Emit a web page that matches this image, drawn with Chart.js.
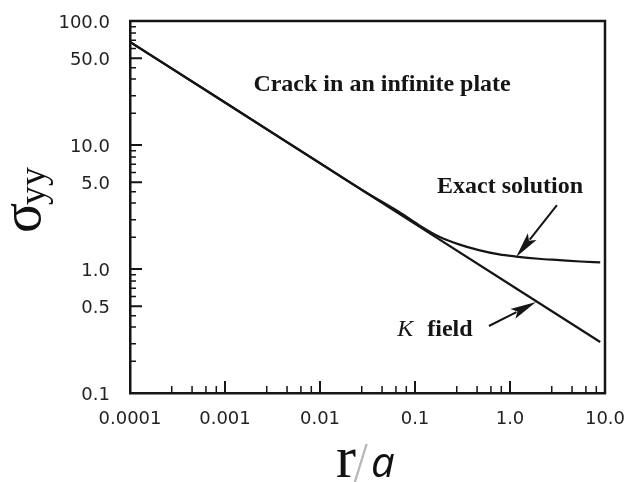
<!DOCTYPE html>
<html>
<head>
<meta charset="utf-8">
<script src="https://cdn.jsdelivr.net/npm/chart.js@4.4.1/dist/chart.umd.min.js"></script>
<style>
  html, body { margin: 0; padding: 0; background: #ffffff; }
  #c { display: block; }
</style>
</head>
<body>
<canvas id="c" width="628" height="482"></canvas>
<script>
// ---- data (log-log) ----
const exactR      = [0.0001, 0.001, 0.01, 0.03, 0.068, 0.11, 0.18, 0.29, 0.47, 0.77, 1.16, 2.0, 3.3, 5.5, 8.9];
const exactSigma  = [67.7,   22.0,  7.14, 4.18, 2.88,  2.26, 1.82, 1.58, 1.42, 1.31, 1.26, 1.21, 1.18, 1.15, 1.13];
const kFieldR     = [0.0001, 0.001, 0.01, 0.1,  1.0,  8.9];
const kFieldSigma = [67.7,   22.0,  7.13, 2.31, 0.75, 0.258];

const xTickValues = [0.0001, 0.001, 0.01, 0.1, 1, 10];
const xTickLabels = ['0.0001', '0.001', '0.01', '0.1', '1.0', '10.0'];
const yTickValues = [0.1, 0.5, 1, 5, 10, 50, 100];
const yTickLabels = ['0.1', '0.5', '1.0', '5.0', '10.0', '50.0', '100.0'];
const xMinorMult  = [2.75, 4.5, 6.3, 8.1];
const yMinorTicks = [0.18, 0.25, 0.34, 0.42, 0.6, 0.7, 0.8, 0.9, 1.8, 2.5, 3.4, 4.2, 6, 7, 8, 9, 18, 25, 34, 42, 60, 70, 80, 90];

const chartTitle   = 'Crack in an infinite plate';
const exactLabel   = 'Exact solution';
const kLabelItalic = 'K';
const kLabelBold   = 'field';
// annotation anchors in data coordinates (r/a, sigma)
const titleAt      = [0.045, 30.5];
const exactLabelAt = [1.0, 4.6];
const kLabelAt     = [0.065, 0.322];
const exactArrow   = [[3.12, 3.28], [1.16, 1.25]];
const kArrow       = [[0.60, 0.347], [1.88, 0.541]];

const INK = '#151515';

function arrow(ctx, x0, y0, x1, y1) {
  const ang = Math.atan2(y1 - y0, x1 - x0);
  const len = 26, half = 5.5;
  const bx = x1 - len * Math.cos(ang), by = y1 - len * Math.sin(ang);
  ctx.beginPath();
  ctx.moveTo(x0, y0); ctx.lineTo(bx + 4 * Math.cos(ang), by + 4 * Math.sin(ang));
  ctx.lineWidth = 2; ctx.strokeStyle = INK; ctx.stroke();
  ctx.beginPath();
  ctx.moveTo(x1, y1);
  ctx.lineTo(bx + half * Math.sin(ang), by - half * Math.cos(ang));
  ctx.lineTo(bx + len * 0.2 * Math.cos(ang), by + len * 0.2 * Math.sin(ang));
  ctx.lineTo(bx - half * Math.sin(ang), by + half * Math.cos(ang));
  ctx.closePath();
  ctx.fillStyle = INK; ctx.fill();
}

const decor = {
  id: 'decor',
  afterDraw(chart) {
    const ctx = chart.ctx, a = chart.chartArea;
    const xs = chart.scales.x, ys = chart.scales.y;
    ctx.save();
    // top and right frame
    ctx.strokeStyle = INK; ctx.lineWidth = 2.5;
    ctx.beginPath();
    ctx.moveTo(a.left - 1, a.top); ctx.lineTo(a.right, a.top); ctx.lineTo(a.right, a.bottom + 1);
    ctx.stroke();
    // inward ticks
    ctx.lineWidth = 2;
    ctx.beginPath();
    yTickValues.forEach(v => { const p = ys.getPixelForValue(v); ctx.moveTo(a.left, p); ctx.lineTo(a.left + 12, p); });
    xTickValues.forEach(v => { const p = xs.getPixelForValue(v); ctx.moveTo(p, a.bottom); ctx.lineTo(p, a.bottom - 12); });
    ctx.stroke();
    ctx.lineWidth = 1.5;
    ctx.beginPath();
    yMinorTicks.forEach(v => { const p = ys.getPixelForValue(v); ctx.moveTo(a.left, p); ctx.lineTo(a.left + 6, p); });
    xTickValues.slice(0, -1).forEach(d => xMinorMult.forEach(m => {
      const p = xs.getPixelForValue(d * m); ctx.moveTo(p, a.bottom); ctx.lineTo(p, a.bottom - 7);
    }));
    ctx.stroke();

    // annotations
    ctx.fillStyle = INK;
    ctx.textBaseline = 'middle';
    ctx.font = 'bold 24px "Liberation Serif"';
    ctx.textAlign = 'center';
    ctx.fillText(chartTitle, xs.getPixelForValue(titleAt[0]), ys.getPixelForValue(titleAt[1]));
    ctx.fillText(exactLabel, xs.getPixelForValue(exactLabelAt[0]), ys.getPixelForValue(exactLabelAt[1]));
    ctx.textAlign = 'left';
    const kx = xs.getPixelForValue(kLabelAt[0]), ky = ys.getPixelForValue(kLabelAt[1]);
    ctx.font = 'italic 24px "Liberation Serif"';
    ctx.fillText(kLabelItalic, kx, ky);
    ctx.font = 'bold 24px "Liberation Serif"';
    ctx.fillText(kLabelBold, kx + 30, ky);

    arrow(ctx, xs.getPixelForValue(exactArrow[0][0]), ys.getPixelForValue(exactArrow[0][1]),
               xs.getPixelForValue(exactArrow[1][0]), ys.getPixelForValue(exactArrow[1][1]));
    arrow(ctx, xs.getPixelForValue(kArrow[0][0]), ys.getPixelForValue(kArrow[0][1]),
               xs.getPixelForValue(kArrow[1][0]), ys.getPixelForValue(kArrow[1][1]));

    // y axis title: sigma_yy (rotated)
    ctx.save();
    ctx.translate(0, 201);
    ctx.rotate(-Math.PI / 2);
    ctx.textBaseline = 'alphabetic';
    ctx.textAlign = 'left';
    ctx.fillStyle = '#111';
    ctx.font = '56px "Liberation Serif"';
    ctx.fillText('σ', -32, 40);
    ctx.font = '38px "Liberation Serif"';
    ctx.fillText('yy', -4, 45);
    ctx.restore();

    // x axis title: r/a
    ctx.textBaseline = 'alphabetic';
    ctx.textAlign = 'left';
    ctx.fillStyle = '#111';
    ctx.font = '60px "Liberation Serif"';
    ctx.fillText('r', 336, 477);
    ctx.fillStyle = '#b8b8b8';
    ctx.font = '300 46px "DejaVu Sans"';
    ctx.fillText('/', 353, 478);
    ctx.fillStyle = '#111';
    ctx.font = 'italic 42px "Open Sans"';
    ctx.fillText('a', 371, 477);
    ctx.restore();
  }
};

const hiddenTickGrid = (len) => ({
  display: true, drawOnChartArea: false, drawTicks: true, tickLength: len,
  color: 'rgba(0,0,0,0)'
});

new Chart(document.getElementById('c'), {
  type: 'line',
  data: {
    datasets: [
      {
        label: exactLabel,
        data: exactR.map((r, i) => ({ x: r, y: exactSigma[i] })),
        borderColor: INK, borderWidth: 2.2, pointRadius: 0,
        cubicInterpolationMode: 'monotone', fill: false
      },
      {
        label: 'K field',
        data: kFieldR.map((r, i) => ({ x: r, y: kFieldSigma[i] })),
        borderColor: INK, borderWidth: 2.2, pointRadius: 0, tension: 0, fill: false
      }
    ]
  },
  options: {
    responsive: false,
    animation: false,
    devicePixelRatio: 1,
    layout: { padding: { left: 0, right: 23, top: 21, bottom: 0 } },
    plugins: { legend: { display: false }, tooltip: { enabled: false }, title: { display: false } },
    scales: {
      x: {
        type: 'logarithmic', min: 0.0001, max: 10,
        grid: hiddenTickGrid(16),
        border: { display: true, color: INK, width: 2.5 },
        afterBuildTicks: s => { s.ticks = xTickValues.map(v => ({ value: v })); },
        afterFit: s => { s.height = 89; },
        ticks: {
          autoSkip: false, maxRotation: 0, padding: 0, color: '#222',
          font: { family: 'DejaVu Sans', size: 18 },
          callback: (v, i) => xTickLabels[i]
        }
      },
      y: {
        type: 'logarithmic', min: 0.1, max: 100,
        grid: hiddenTickGrid(20),
        border: { display: true, color: INK, width: 2.5 },
        afterBuildTicks: s => { s.ticks = yTickValues.map(v => ({ value: v })); },
        afterFit: s => { s.width = 130; },
        ticks: {
          autoSkip: false, padding: 0, labelOffset: 2, color: '#222',
          font: { family: 'DejaVu Sans', size: 18 },
          callback: (v, i) => yTickLabels[i]
        }
      }
    }
  },
  plugins: [decor]
});
</script>
</body>
</html>
